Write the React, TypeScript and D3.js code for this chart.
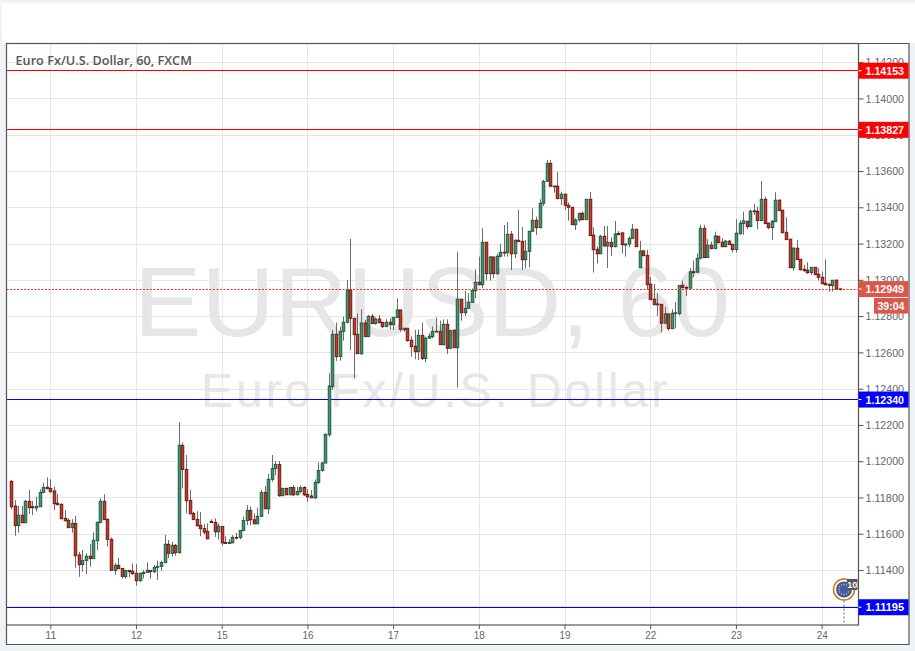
import React, { useEffect, useRef } from 'react';
import * as d3 from 'd3';

// hourly bars, prices in 1/100000 (starts 13 bars before the "11" tick)
const opens = [
  111889,111753,111645,111702,111661,111779,111749,111742,111749,111828,111856,
  111849,111836,111768,111762,111685,111674,111634,111657,111483,111430,111452,111476,111463,111562,111663,111779,111680,111569,111398,111426,111409,111363,111398,111393,
  111382,111341,111380,111387,111398,111391,111415,111420,111442,111542,111492,111536,111496,112087,111955,111784,111712,111679,111646,111628,111613,111668,111662,111611,
  111640,111552,111547,111550,111580,111580,111618,111673,111729,111677,111655,111696,111828,111738,111900,111960,111982,111810,111850,111815,111855,111815,111833,111855,
  111817,111808,111798,111883,111949,111990,112146,112411,112700,112577,112716,112766,112944,112788,112700,112593,112762,112687,112799,112759,112784,112766,112742,112766,
  112753,112793,112834,112725,112733,112667,112634,112604,112694,112566,112678,112687,112716,112716,112643,112755,112623,112722,112626,112893,112819,112843,112876,112940,
  112986,112973,113207,113034,113126,113034,113130,113152,113150,113251,113144,113218,113212,113111,113157,113268,113328,113288,113422,113543,113642,113517,113516,113448,
  113472,113411,113400,113304,113330,113367,113332,113444,113247,113168,113144,113240,113187,113207,113183,113256,113259,113192,113198,113229,113279,113067,113159,113135,
  112976,112893,112867,112865,112761,112812,112731,112814,112814,112970,112959,112954,113045,113042,113119,113284,113123,113191,113172,113240,113207,113183,113213,113196,
  113167,113255,113310,113323,113294,113380,113378,113327,113444,113312,113288,113321,113439,113384,113262,113224,113067,113174,113113,113058,113053,113040,113069,113031,
  113014,112981,112976,112968,112998,112950,
];
const highs = [
  111896,111786,111753,111753,111786,111841,111781,111804,111845,111882,111911,
  111902,111860,111819,111768,111731,111685,111680,111698,111501,111510,111492,111544,111608,111667,111795,111819,111683,111580,111437,111466,111409,111400,111400,111437,
  111433,111385,111400,111442,111400,111428,111452,111452,111593,111566,111556,111544,112216,112104,112034,111841,111721,111725,111719,111653,111657,111679,111685,111657,
  111640,111587,111571,111593,111605,111620,111694,111758,111749,111712,111743,111841,111863,111929,112034,112001,112001,111854,111855,111859,111868,111859,111866,111863,
  111844,111841,111900,111993,111997,112153,112485,112724,112764,112742,112797,112999,113225,112788,112815,112838,112779,112806,112812,112793,112806,112766,112782,112788,
  112793,112898,112834,112733,112733,112687,112724,112727,112764,112687,112705,112742,112793,112775,112782,112782,112724,112727,113154,112893,112940,112926,112953,113058,
  113128,113284,113207,113132,113126,113143,113198,113302,113317,113269,113223,113385,113290,113220,113269,113394,113348,113444,113551,113661,113661,113517,113595,113486,
  113477,113426,113400,113339,113367,113376,113444,113484,113290,113183,113247,113297,113297,113234,113325,113269,113259,113198,113238,113308,113279,113215,113165,113165,
  113016,112977,112926,112865,112852,112812,112838,112878,112972,112996,112963,113064,113106,113146,113303,113303,113224,113211,113266,113240,113229,113220,113220,113196,
  113334,113330,113376,113325,113389,113419,113404,113545,113459,113316,113330,113483,113444,113385,113345,113224,113180,113220,113113,113082,113097,113069,113069,113066,
  113045,113113,112976,112999,113003,112954,
];
const lows = [
  111735,111589,111606,111661,111661,111709,111703,111722,111749,111823,111845,
  111827,111731,111760,111680,111669,111630,111606,111413,111363,111391,111378,111419,111463,111510,111657,111676,111529,111398,111373,111408,111354,111354,111360,111373,
  111314,111336,111354,111385,111352,111382,111345,111397,111437,111465,111474,111479,111490,111850,111712,111710,111675,111642,111587,111598,111572,111661,111583,111569,
  111534,111543,111543,111550,111569,111569,111617,111648,111648,111653,111655,111694,111738,111708,111887,111923,111804,111808,111813,111813,111808,111813,111822,111808,
  111776,111798,111793,111874,111942,111990,112135,112393,112553,112555,112665,112760,112613,112457,112593,112586,112687,112687,112757,112753,112760,112733,112742,112727,
  112724,112793,112714,112714,112659,112577,112562,112558,112558,112545,112678,112678,112713,112643,112639,112591,112617,112626,112406,112775,112801,112843,112876,112898,
  112973,112953,112996,112996,113008,113027,113124,113128,113128,113054,113119,113211,113054,113064,113069,113266,113247,113284,113407,113541,113514,113481,113444,113413,
  113385,113326,113304,113275,113321,113330,113330,113244,113040,113091,113143,113183,113065,113132,113179,113249,113146,113128,113180,113224,113183,113067,113128,112944,
  112889,112862,112801,112709,112761,112720,112731,112733,112805,112954,112911,112950,113014,113042,113113,113119,113121,113169,113172,113202,113180,113180,113192,113150,
  113150,113248,113248,113279,113290,113358,113279,113327,113310,113279,113220,113321,113380,113257,113222,113067,113051,113110,113051,113045,113033,113027,113025,112996,
  112976,112972,112935,112935,112948,112941,
];
const closes = [
  111749,111645,111702,111661,111779,111744,111744,111751,111828,111856,111849,
  111832,111766,111760,111683,111672,111634,111657,111479,111430,111452,111476,111463,111564,111663,111779,111678,111569,111398,111426,111408,111365,111398,111391,111380,
  111341,111382,111387,111398,111391,111415,111420,111442,111542,111492,111536,111496,112088,111955,111782,111710,111679,111644,111628,111609,111572,111662,111611,111642,
  111550,111547,111552,111580,111576,111618,111673,111729,111677,111655,111696,111828,111738,111900,111960,111982,111810,111850,111815,111855,111815,111833,111854,111815,
  111804,111798,111883,111949,111990,112148,112415,112700,112577,112716,112766,112944,112788,112698,112593,112762,112687,112799,112759,112784,112764,112742,112766,112753,
  112793,112834,112727,112733,112665,112632,112604,112694,112566,112679,112689,112716,112714,112643,112755,112623,112720,112626,112893,112819,112843,112876,112942,112986,
  112973,113207,113034,113126,113034,113130,113152,113148,113251,113144,113218,113211,113111,113157,113268,113328,113288,113422,113543,113642,113516,113514,113448,113472,
  113411,113400,113304,113330,113367,113332,113444,113244,113166,113144,113240,113187,113207,113183,113253,113249,113194,113198,113229,113279,113183,113159,113134,112974,
  112891,112863,112863,112761,112812,112731,112816,112818,112968,112957,112954,113044,113040,113119,113284,113123,113191,113172,113242,113205,113183,113213,113194,113167,
  113257,113312,113325,113294,113378,113376,113327,113444,113310,113288,113323,113439,113382,113260,113222,113067,113174,113112,113056,113051,113040,113069,113029,113014,
  112979,112972,112970,112998,112948,112949,
];

const firstBar = -11;
const dayTicks = [0, 24, 48, 72, 96, 120, 144, 168, 192, 216];
const dayLabels = ['11', '12', '15', '16', '17', '18', '19', '22', '23', '24'];
const priceTicks = [1.112, 1.114, 1.116, 1.118, 1.12, 1.122, 1.124, 1.126, 1.128, 1.13, 1.132, 1.134, 1.136, 1.138, 1.14, 1.142];
const levels = [
  { price: 1.14153, color: '#ff0000' },
  { price: 1.13827, color: '#ff0000' },
  { price: 1.1234, color: '#0000ff' },
  { price: 1.11195, color: '#0000ff' },
];
const lastPrice = 1.12949;
const countdown = '39:04';
const flagStars = [0, 1, 2, 3, 4, 5, 6, 7, 8, 9, 10, 11];

const axisFont = '"Liberation Sans", Arial, sans-serif';

const App = () => {
  const ref = useRef<SVGSVGElement>(null);

  useEffect(() => {
    const svg = d3.select(ref.current);
    svg.selectAll('*').remove();

    const bars = opens.map((o, i) => ({
      i: i + firstBar,
      o: o / 1e5,
      h: highs[i] / 1e5,
      l: lows[i] / 1e5,
      c: closes[i] / 1e5,
    }));

    const left = 6.5, right = 858.5, top = 43.5, bottom = 625;
    const x = d3.scaleLinear().domain([-11, 221]).range([11, 839.5]);
    const y = d3.scaleLinear().domain([1.11097, 1.14303]).range([bottom, top]);
    const snap = (v: number) => Math.round(v) + 0.5;

    // page
    svg.append('rect').attr('width', 915).attr('height', 651).attr('fill', '#f0f3f5');
    svg.append('rect').attr('x', 2).attr('y', 3).attr('width', 913).attr('height', 40).attr('fill', '#fff');
    svg.append('rect').attr('x', left).attr('y', top).attr('width', 909 - left).attr('height', 644.5 - top).attr('fill', '#fff');

    // grid
    const grid = svg.append('g').attr('stroke', '#e6e6e6').attr('stroke-width', 1);
    priceTicks.forEach(p => {
      grid.append('line').attr('x1', left).attr('x2', right).attr('y1', snap(y(p))).attr('y2', snap(y(p)));
    });
    dayTicks.forEach(d => {
      grid.append('line').attr('y1', top).attr('y2', bottom).attr('x1', snap(x(d))).attr('x2', snap(x(d)));
    });

    // watermark
    svg.append('text').attr('x', 432).attr('y', 336).attr('text-anchor', 'middle')
      .attr('font-family', axisFont).attr('font-size', 99).attr('fill', '#e6e6e6')
      .attr('textLength', 596).attr('lengthAdjust', 'spacingAndGlyphs')
      .text('EURUSD, 60');
    svg.append('text').attr('x', 434).attr('y', 406.5).attr('text-anchor', 'middle')
      .attr('font-family', axisFont).attr('font-size', 48).attr('fill', '#e6e6e6')
      .attr('textLength', 466).attr('lengthAdjust', 'spacing')
      .text('Euro Fx/U.S. Dollar');

    // level lines
    levels.forEach(l => {
      svg.append('line').attr('x1', left).attr('x2', right)
        .attr('y1', Math.floor(y(l.price)) + 0.5).attr('y2', Math.floor(y(l.price)) + 0.5)
        .attr('stroke', l.color).attr('stroke-width', 1);
    });

    // candles
    const candle = svg.append('g').selectAll('g').data(bars).join('g');
    candle.append('line')
      .attr('x1', d => snap(x(d.i))).attr('x2', d => snap(x(d.i)))
      .attr('y1', d => y(d.h)).attr('y2', d => y(d.l))
      .attr('stroke', '#6b6b6b').attr('stroke-width', 1);
    candle.append('rect')
      .attr('x', d => snap(x(d.i)) - 1.25).attr('width', 2.5)
      .attr('y', d => y(Math.max(d.o, d.c)))
      .attr('height', d => Math.max(0.6, Math.abs(y(d.o) - y(d.c))))
      .attr('fill', d => (d.c >= d.o ? '#479170' : '#c73a2b'))
      .attr('stroke', d => (d.c >= d.o ? '#1f5c40' : '#6f1a12'))
      .attr('stroke-width', 1);

    // last price line
    svg.append('line').attr('x1', left).attr('x2', right)
      .attr('y1', Math.floor(y(lastPrice)) + 0.5).attr('y2', Math.floor(y(lastPrice)) + 0.5)
      .attr('stroke', '#e8341f').attr('stroke-width', 1).attr('stroke-dasharray', '2,1.5');

    // right axis
    const yAxis = d3.axisRight(y).tickValues(priceTicks).tickFormat(d3.format('.5f')).tickSize(5).tickPadding(2);
    const yG = svg.append('g').attr('transform', `translate(${right},0)`).call(yAxis);
    yG.select('.domain').remove();
    yG.selectAll('line').attr('stroke', '#555');
    yG.selectAll('text').attr('fill', '#666').attr('font-family', axisFont).attr('font-size', 11.5)
      .attr('textLength', 38.5).attr('lengthAdjust', 'spacingAndGlyphs');

    // bottom axis
    const xAxis = d3.axisBottom(x).tickValues(dayTicks).tickFormat((_, i) => dayLabels[i]).tickSize(4).tickPadding(2);
    const xG = svg.append('g').attr('transform', `translate(0,${bottom})`).call(xAxis);
    xG.select('.domain').remove();
    xG.selectAll('line').attr('stroke', '#555');
    xG.selectAll('text').attr('fill', '#666').attr('font-family', axisFont).attr('font-size', 11.5)
      .attr('textLength', 11).attr('lengthAdjust', 'spacingAndGlyphs');

    // frame
    svg.append('rect').attr('x', left).attr('y', top).attr('width', right - left).attr('height', bottom - top)
      .attr('fill', 'none').attr('stroke', '#555').attr('stroke-width', 1.2);
    svg.append('path').attr('d', `M${right},${top}H909V644.5H${left}V${bottom}`)
      .attr('fill', 'none').attr('stroke', '#555').attr('stroke-width', 1.2);

    // price labels
    const tag = (price: number, fill: string) => {
      const cy = y(price);
      svg.append('rect').attr('x', right).attr('y', cy - 8).attr('width', 50).attr('height', 16).attr('fill', fill);
      svg.append('line').attr('x1', right).attr('x2', right + 3).attr('y1', cy).attr('y2', cy).attr('stroke', '#fff');
      svg.append('text').attr('x', right + 7).attr('y', cy + 4.2)
        .attr('fill', '#fff').attr('font-family', axisFont).attr('font-size', 11.5).attr('font-weight', 'bold')
        .attr('textLength', 38.5).attr('lengthAdjust', 'spacingAndGlyphs')
        .text(price.toFixed(5));
    };
    levels.forEach(l => tag(l.price, l.color));
    tag(lastPrice, '#d9584a');
    svg.append('rect').attr('x', 874).attr('y', 298).attr('width', 34.5).attr('height', 15.5).attr('fill', '#d9584a');
    svg.append('text').attr('x', 891).attr('y', 310).attr('text-anchor', 'middle')
      .attr('fill', '#fff').attr('font-family', axisFont).attr('font-size', 11.5).attr('font-weight', 'bold')
      .attr('textLength', 27).attr('lengthAdjust', 'spacingAndGlyphs')
      .text(countdown);

    // title
    svg.append('text').attr('x', 15.5).attr('y', 65).attr('fill', '#555')
      .attr('font-family', '"Open Sans", sans-serif').attr('font-size', 12.7).attr('font-weight', 600)
      .text('Euro Fx/U.S. Dollar, 60, FXCM');

    // event marker
    const mx = 844, my = 589.5;
    svg.append('line').attr('x1', mx).attr('x2', mx).attr('y1', my + 11).attr('y2', bottom)
      .attr('stroke', '#999').attr('stroke-width', 1.5).attr('stroke-dasharray', '2,2');
    svg.append('circle').attr('cx', mx).attr('cy', my).attr('r', 10.5)
      .attr('fill', '#fff').attr('stroke', '#c8761c').attr('stroke-width', 1.5);
    svg.append('circle').attr('cx', mx).attr('cy', my).attr('r', 8).attr('fill', '#3f5ba6');
    svg.append('g').selectAll('circle').data(flagStars).join('circle')
      .attr('cx', d => mx + 5 * Math.cos((d * Math.PI) / 6))
      .attr('cy', d => my + 5 * Math.sin((d * Math.PI) / 6))
      .attr('r', 0.7).attr('fill', '#f0d040');
    svg.append('rect').attr('x', 847).attr('y', 579).attr('width', 10.5).attr('height', 11).attr('fill', '#555');
    svg.append('text').attr('x', 852.2).attr('y', 588).attr('text-anchor', 'middle')
      .attr('fill', '#fff').attr('font-family', axisFont).attr('font-size', 9).attr('font-weight', 'bold').text('10');
  }, []);

  return <svg ref={ref} width={915} height={651} style={{ position: 'absolute', left: 0, top: 0 }} />;
};

export default App;
